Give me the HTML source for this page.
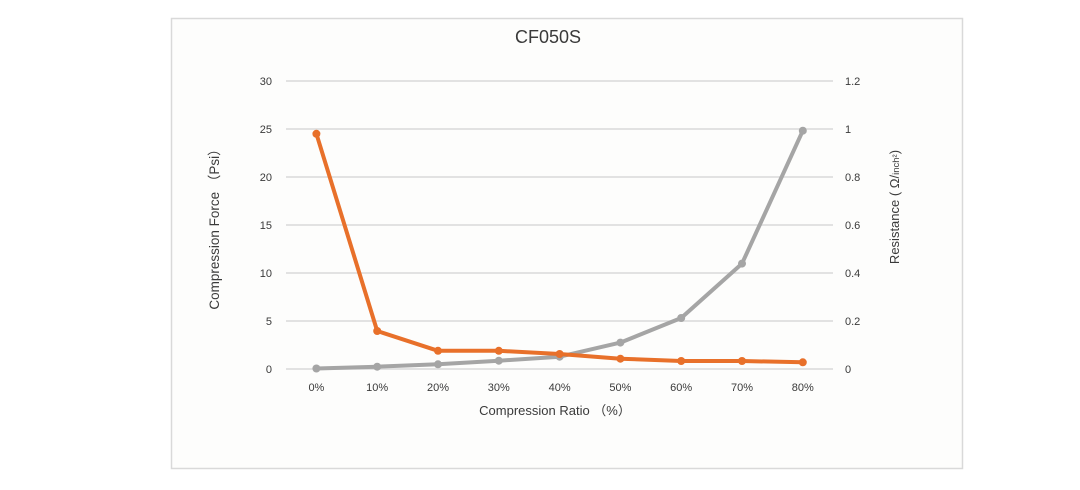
<!DOCTYPE html>
<html><head><meta charset="utf-8"><style>
html,body{margin:0;padding:0;background:#fff;}
svg{display:block;}
text{font-family:"Liberation Sans","Noto Sans CJK SC",sans-serif;fill:#3a3a3a;}
</style></head><body>
<svg width="1080" height="490" viewBox="0 0 1080 490" xmlns="http://www.w3.org/2000/svg">
<rect x="0" y="0" width="1080" height="490" fill="#fff"/>
<rect x="171.5" y="18.5" width="791" height="450" fill="#fdfdfc" stroke="#d9d9d9" stroke-width="1.5"/>
<text x="548" y="43" font-size="18" text-anchor="middle" fill="#1a1a1a">CF050S</text>
<g stroke="#d9d9d9" stroke-width="1.5">
<line x1="286" y1="81" x2="833" y2="81"/>
<line x1="286" y1="129" x2="833" y2="129"/>
<line x1="286" y1="177" x2="833" y2="177"/>
<line x1="286" y1="225" x2="833" y2="225"/>
<line x1="286" y1="273" x2="833" y2="273"/>
<line x1="286" y1="321" x2="833" y2="321"/>
<line x1="286" y1="369" x2="833" y2="369"/>
</g>
<g font-size="11" text-anchor="end">
<text x="272" y="85">30</text>
<text x="272" y="133">25</text>
<text x="272" y="181">20</text>
<text x="272" y="229">15</text>
<text x="272" y="277">10</text>
<text x="272" y="325">5</text>
<text x="272" y="373">0</text>
</g>
<g font-size="11" text-anchor="start">
<text x="845" y="85">1.2</text>
<text x="845" y="133">1</text>
<text x="845" y="181">0.8</text>
<text x="845" y="229">0.6</text>
<text x="845" y="277">0.4</text>
<text x="845" y="325">0.2</text>
<text x="845" y="373">0</text>
</g>
<g font-size="11" text-anchor="middle">
<text x="316.4" y="391">0%</text>
<text x="377.2" y="391">10%</text>
<text x="438" y="391">20%</text>
<text x="498.8" y="391">30%</text>
<text x="559.6" y="391">40%</text>
<text x="620.4" y="391">50%</text>
<text x="681.2" y="391">60%</text>
<text x="742" y="391">70%</text>
<text x="802.8" y="391">80%</text>
</g>
<text x="555" y="415" font-size="13" text-anchor="middle">Compression Ratio （%）</text>
<text transform="translate(219,226) rotate(-90)" font-size="13.5" text-anchor="middle">Compression Force （Psi）</text>
<text transform="translate(899,207) rotate(-90)" font-size="13" text-anchor="middle">Resistance ( Ω/<tspan font-size="9.5">inch²</tspan>)</text>
<g fill="#a5a5a5">
<polyline fill="none" stroke="#a5a5a5" stroke-width="4" stroke-linejoin="round" points="316.4,368.5 377.2,366.7 438,364.3 498.8,360.7 559.6,356.7 620.4,342.6 681.2,318 742,263.6 802.8,130.7"/>
<circle cx="316.4" cy="368.5" r="4"/><circle cx="377.2" cy="366.7" r="4"/><circle cx="438" cy="364.3" r="4"/><circle cx="498.8" cy="360.7" r="4"/><circle cx="559.6" cy="356.7" r="4"/><circle cx="620.4" cy="342.6" r="4"/><circle cx="681.2" cy="318" r="4"/><circle cx="742" cy="263.6" r="4"/><circle cx="802.8" cy="130.7" r="4"/>
</g>
<g fill="#e8702a">
<polyline fill="none" stroke="#e8702a" stroke-width="4" stroke-linejoin="round" points="316.4,133.8 377.2,331 438,350.8 498.8,350.8 559.6,354 620.4,358.7 681.2,361 742,361 802.8,362.3"/>
<circle cx="316.4" cy="133.8" r="4"/><circle cx="377.2" cy="331" r="4"/><circle cx="438" cy="350.8" r="4"/><circle cx="498.8" cy="350.8" r="4"/><circle cx="559.6" cy="354" r="4"/><circle cx="620.4" cy="358.7" r="4"/><circle cx="681.2" cy="361" r="4"/><circle cx="742" cy="361" r="4"/><circle cx="802.8" cy="362.3" r="4"/>
</g>
</svg>
</body></html>
